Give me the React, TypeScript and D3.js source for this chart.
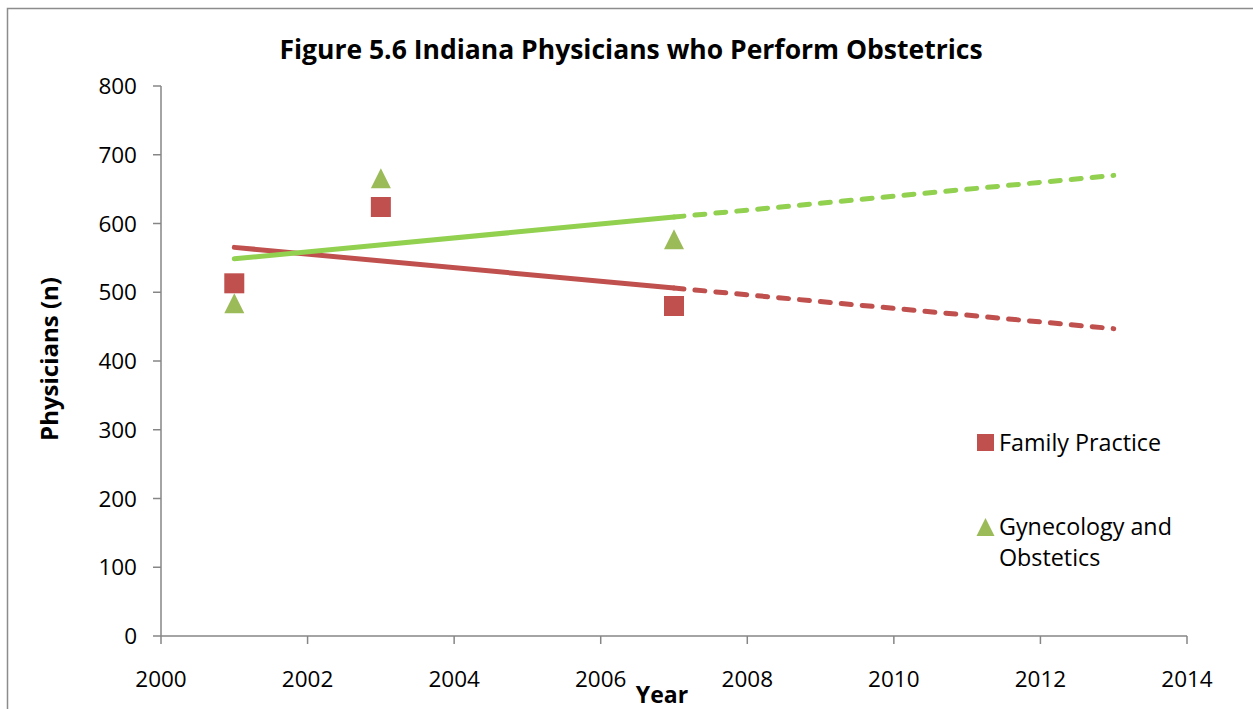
import React from "react";
import * as d3 from "d3";

const years = [2001, 2003, 2007];
const familyPractice = [513, 624, 480];
const gynObstetrics = [484, 666, 577];
const xTicks = [2000, 2002, 2004, 2006, 2008, 2010, 2012, 2014];
const yTicks = [0, 100, 200, 300, 400, 500, 600, 700, 800];
const trendEndYear = 2013;

const W = 1253;
const H = 709;
const FONT = "'Open Sans', sans-serif";

function linearFit(xs: number[], ys: number[]) {
  const mx = d3.mean(xs)!;
  const my = d3.mean(ys)!;
  let sxy = 0;
  let sxx = 0;
  xs.forEach((x, i) => {
    sxy += (x - mx) * (ys[i] - my);
    sxx += (x - mx) * (x - mx);
  });
  const slope = sxy / sxx;
  return (x: number) => my + slope * (x - mx);
}

export default function App() {
  const x = d3.scaleLinear().domain([2000, 2014]).range([161, 1187]);
  const y = d3.scaleLinear().domain([0, 800]).range([636, 86]);
  const axisColor = "#868686";

  const series = [
    { name: "Family Practice", values: familyPractice, marker: "#C0504D", trend: "#C0504D", shape: "square" },
    { name: "Gynecology and Obstetics", values: gynObstetrics, marker: "#9BBB59", trend: "#92D050", shape: "triangle" },
  ];

  const triPath = (cx: number, cy: number, s: number) =>
    `M${cx},${cy - s / 2}L${cx + s / 2},${cy + s / 2}L${cx - s / 2},${cy + s / 2}Z`;

  return (
    <svg
      width={W}
      height={H}
      style={{ position: "absolute", left: 0, top: 0, background: "#fff" }}
      fontFamily={FONT}
    >
      <rect x={7.5} y={8.5} width={W + 10} height={H + 10} fill="#fff" stroke="#8c8c8c" strokeWidth={1.5} />

      <text x={631} y={59} textAnchor="middle" fontSize={26.5} fontWeight="bold" fill="#000">
        Figure 5.6 Indiana Physicians who Perform Obstetrics
      </text>

      {/* y axis */}
      <line x1={x(2000)} x2={x(2000)} y1={y(0)} y2={y(800)} stroke={axisColor} strokeWidth={1.5} />
      {yTicks.map((t) => (
        <g key={`y${t}`}>
          <line x1={x(2000) - 8} x2={x(2000)} y1={y(t)} y2={y(t)} stroke={axisColor} strokeWidth={1.5} />
          <text x={137} y={y(t)} dy="0.36em" textAnchor="end" fontSize={22.5} fill="#000">
            {t}
          </text>
        </g>
      ))}

      {/* x axis */}
      <line x1={x(2000)} x2={x(2014)} y1={y(0)} y2={y(0)} stroke={axisColor} strokeWidth={1.5} />
      {xTicks.map((t) => (
        <g key={`x${t}`}>
          <line x1={x(t)} x2={x(t)} y1={y(0)} y2={y(0) + 8} stroke={axisColor} strokeWidth={1.5} />
          <text x={x(t)} y={687} textAnchor="middle" fontSize={22.5} fill="#000">
            {t}
          </text>
        </g>
      ))}

      <text x={662} y={703} textAnchor="middle" fontSize={23} fontWeight="bold" fill="#000">
        Year
      </text>
      <text
        transform={`translate(58,359) rotate(-90)`}
        textAnchor="middle"
        fontSize={24}
        fontWeight="bold"
        fill="#000"
      >
        Physicians (n)
      </text>

      {/* markers */}
      {series.map((s) =>
        years.map((yr, i) =>
          s.shape === "square" ? (
            <rect
              key={`${s.name}${yr}`}
              x={x(yr) - 10}
              y={y(s.values[i]) - 10}
              width={20}
              height={20}
              fill={s.marker}
            />
          ) : (
            <path key={`${s.name}${yr}`} d={triPath(x(yr), y(s.values[i]), 20)} fill={s.marker} />
          )
        )
      )}

      {/* linear trend lines: solid over the data range, dashed forecast */}
      {series.map((s) => {
        const f = linearFit(years, s.values);
        const solid = [years[0], years[years.length - 1]];
        const dashed = [years[years.length - 1], trendEndYear];
        const pathOf = (xs: number[]) =>
          d3
            .line<number>()
            .x((d) => x(d))
            .y((d) => y(f(d)))(xs) as string;
        return (
          <g key={`trend${s.name}`}>
            <path d={pathOf(solid)} fill="none" stroke={s.trend} strokeWidth={5} strokeLinecap="round" />
            <path
              d={pathOf(dashed)}
              fill="none"
              stroke={s.trend}
              strokeWidth={5}
              strokeLinecap="round"
              strokeDasharray="10 11"
            />
          </g>
        );
      })}

      {/* legend */}
      <rect x={977} y={434} width={17} height={17} fill="#C0504D" />
      <text x={999} y={451} fontSize={23.3} fill="#000">
        Family Practice
      </text>
      <path d={triPath(985.5, 527, 18)} fill="#9BBB59" />
      <text x={999} y={535} fontSize={23.3} fill="#000">
        Gynecology and
      </text>
      <text x={999} y={566} fontSize={23.3} fill="#000">
        Obstetics
      </text>
    </svg>
  );
}
